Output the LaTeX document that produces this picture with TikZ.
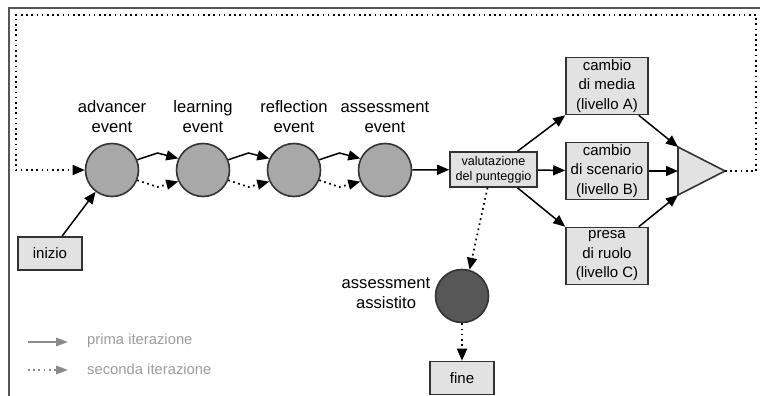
\documentclass[tikz,border=0pt]{standalone}
\usepackage{fontspec}
\setmainfont{Liberation Sans}
\usetikzlibrary{arrows.meta,calc}
\definecolor{linegray}{HTML}{333333}
\definecolor{evtgray}{HTML}{A8A8A8}
\definecolor{asstgray}{HTML}{575757}
\definecolor{boxgray}{HTML}{E2E2E2}
\definecolor{framegray}{HTML}{555555}
\definecolor{leggray}{HTML}{8A8A8A}
\definecolor{legtext}{HTML}{9C9C9C}
\tikzset{
  evt/.style={circle,draw=linegray,fill=evtgray,line width=1.6pt,minimum size=53pt,inner sep=0pt},
  evtlbl/.style={align=center,inner sep=0pt,font=\fontsize{16.6}{20}\selectfont},
  lvlbox/.style={draw=linegray,fill=boxgray,line width=1.6pt,align=center,inner sep=0pt,
    minimum width=82pt,minimum height=57pt,font=\fontsize{15}{19.5}\selectfont},
  valbox/.style={lvlbox,minimum width=87pt,minimum height=35pt,font=\fontsize{12.6}{15}\selectfont},
  endbox/.style={lvlbox,minimum width=64pt,minimum height=33pt},
  arr/.style={-{Triangle[length=12pt,width=10pt]},line width=1.5pt,draw=black},
  dots/.style={line width=1.7pt,dash pattern=on 1.7pt off 3.5pt},
  legarr/.style={-{Triangle[length=12pt,width=8.5pt]},line width=1.4pt,draw=leggray},
  leglbl/.style={anchor=west,inner sep=0pt,text=legtext,font=\fontsize{14.8}{17}\selectfont}
}
\begin{document}
\begin{tikzpicture}[x=1pt,y=-1pt]
\useasboundingbox (0,0) rectangle (760,396);
% frame
\draw[framegray,line width=1.5pt] (760,8) -- (9,8) -- (9,396);

% events
\node[evt] (adv) at (112,170) {};
\node[evt] (lrn) at (203,170) {};
\node[evt] (rfl) at (294,170) {};
\node[evt] (ass) at (385,170) {};
\node[evtlbl] (advlbl) at (112,117) {advancer\\event};
\node[evtlbl] (lrnlbl) at (203,117) {learning\\event};
\node[evtlbl] (rfllbl) at (294,117) {reflection\\event};
\node[evtlbl] (asslbl) at (385,117) {assessment\\event};

\foreach \a/\b in {adv/lrn,lrn/rfl,rfl/ass}{
  \draw[arr] (\a.22) -- ($(\a)!0.5!(\b)+(0,-17)$) -- (\b.155);
  \draw[arr,dots] (\a.-22) -- ($(\a)!0.5!(\b)+(0,17)$) -- (\b.205);
}

% start
\node[endbox] (inizio) at (50,253.5) {inizio};
\draw[arr] ([xshift=12pt]inizio.north) -- (adv.233);

% score and levels
\node[valbox] (val) at (493.5,169.5) {valutazione\\del punteggio};
\node[lvlbox] (lvla) at (607,86) {cambio\\di media\\(livello A)};
\node[lvlbox] (lvlb) at (607,171) {cambio\\di scenario\\(livello B)};
\node[lvlbox] (lvlc) at (607,256) {presa\\di ruolo\\(livello C)};
\draw[arr] (ass) -- (val);
\draw[arr] ([xshift=24pt]val.north) -- (lvla.south west);
\draw[arr] (val) -- (lvlb);
\draw[arr] ([xshift=24pt]val.south) -- (lvlc.north west);

% merge
\coordinate (tA) at (678,147);
\coordinate (tB) at (678,171);
\coordinate (tC) at (678,195);
\coordinate (tip) at (725,171);
\draw[draw=linegray,fill=boxgray,line width=1.6pt] (tA) -- (tip) -- (tC) -- cycle;
\draw[arr] ([xshift=-10pt]lvla.south east) -- (tA);
\draw[arr] (lvlb) -- (tB);
\draw[arr] ([xshift=-10pt]lvlc.north east) -- (tC);

% second iteration
\coordinate (loopR) at (756,15);
\coordinate (loopL) at (16,15);
\draw[arr,dots] (tip) -| (loopR) -- (loopL) |- (adv);

% end
\node[evt,fill=asstgray] (asst) at (462,296) {};
\node[evtlbl] (asstlbl) at (386,293) {assessment\\assistito};
\node[endbox] (fine) at (462,378) {fine};
\draw[arr,dots] ([xshift=-6pt]val.south) -- (asst.74);
\draw[arr,dots] (asst) -- (fine);

% legend
\coordinate (lega) at (28,342);
\coordinate (legb) at (68,342);
\coordinate (legc) at (28,370);
\coordinate (legd) at (68,370);
\draw[legarr] (lega) -- (legb);
\draw[legarr,dots] (legc) -- (legd);
\node[leglbl] (prima) at (87,341) {prima iterazione};
\node[leglbl] (seconda) at (87,369) {seconda iterazione};
\end{tikzpicture}
\end{document}
